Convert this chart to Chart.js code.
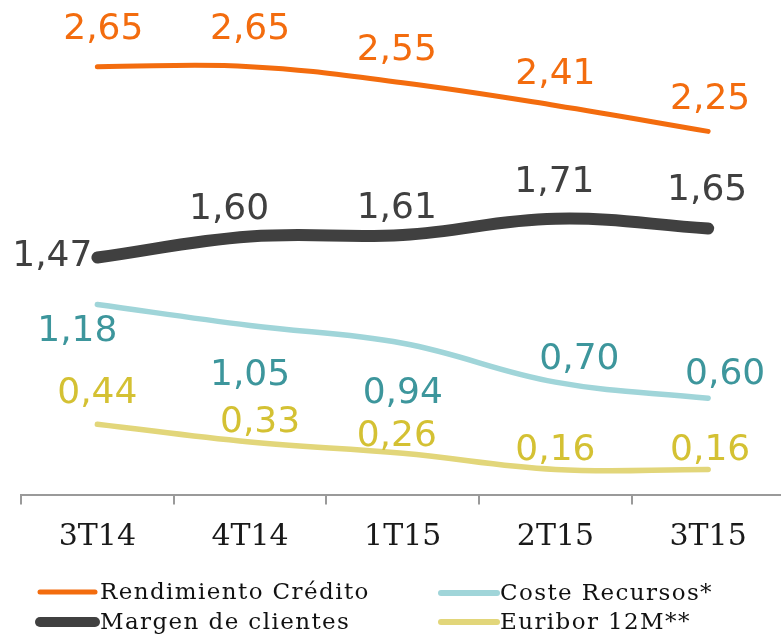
<!DOCTYPE html>
<html><head><meta charset="utf-8">
<script src="https://cdn.jsdelivr.net/npm/chart.js@4/dist/chart.umd.min.js"></script>
<style>html,body{margin:0;padding:0;overflow:hidden;background:#fff}#wrap{position:relative;width:786px;height:634px}</style>
</head><body><div id="wrap"><canvas id="c" width="786" height="634"></canvas></div>
<script>
const categories = ['3T14', '4T14', '1T15', '2T15', '3T15'];
const rendimientoCredito = [2.65, 2.65, 2.55, 2.41, 2.25];
const margenClientes = [1.47, 1.60, 1.61, 1.71, 1.65];
const costeRecursos = [1.18, 1.05, 0.94, 0.70, 0.60];
const euribor12M = [0.44, 0.33, 0.26, 0.16, 0.16];
const seriesNames = ['Rendimiento Crédito', 'Margen de clientes', 'Coste Recursos*', 'Euribor 12M**'];

const lineColors = ['#f36c0e', '#404040', '#a0d5d9', '#e2d67a'];
const labelColors = ['#f36c0e', '#404040', '#3d969c', '#d4c133'];
const lineWidths = [5, 12, 5.5, 5.5];
// label placement (layout only): offset of label centre from its point
const labelOffsets = [
  [[6,-39],[0,-39],[-6,-34],[0,-33],[2,-34]],
  [[-45,-3],[-21,-29],[-6,-28],[-1,-38],[-1,-40]],
  [[-20,25],[0,48],[0,48],[24,-24],[17,-26]],
  [[0,-33],[10,-21],[-6,-19],[0,-21],[2,-21]]
];
const legendSlots = [
  {x1:40, x2:95, y:592, tx:100},
  {x1:40, x2:95, y:622, tx:100},
  {x1:441, x2:497, y:593, tx:500},
  {x1:441, x2:497, y:622, tx:500}
];
const legendWidths = [5, 10, 6, 6];

const valueLabels = {
  id: 'valueLabels',
  afterDatasetsDraw(chart) {
    const ctx = chart.ctx;
    ctx.save();
    ctx.font = '36px "DejaVu Sans"';
    ctx.textAlign = 'center';
    ctx.textBaseline = 'middle';
    chart.data.datasets.forEach((ds, di) => {
      const meta = chart.getDatasetMeta(di);
      ctx.fillStyle = labelColors[di];
      meta.data.forEach((pt, i) => {
        const o = labelOffsets[di][i];
        ctx.fillText(ds.data[i].toFixed(2).replace('.', ','), pt.x + o[0], pt.y + o[1] + 2);
      });
    });
    ctx.restore();
  }
};
const legendPlugin = {
  id: 'customLegend',
  afterDraw(chart) {
    const ctx = chart.ctx;
    ctx.save();
    ctx.font = '23px "DejaVu Serif"';
    ctx.letterSpacing = '1.4px';
    ctx.textAlign = 'left';
    ctx.textBaseline = 'middle';
    seriesNames.forEach((name, i) => {
      const s = legendSlots[i];
      ctx.strokeStyle = lineColors[i];
      ctx.lineWidth = legendWidths[i];
      ctx.lineCap = 'round';
      ctx.beginPath();
      ctx.moveTo(s.x1, s.y);
      ctx.lineTo(s.x2, s.y);
      ctx.stroke();
      ctx.fillStyle = '#111';
      ctx.fillText(name, s.tx, s.y + 1);
    });
    ctx.restore();
  }
};

const series = [rendimientoCredito, margenClientes, costeRecursos, euribor12M];
new Chart(document.getElementById('c'), {
  type: 'line',
  data: {
    labels: categories,
    datasets: series.map((d, i) => ({
      label: seriesNames[i],
      data: d,
      borderColor: lineColors[i],
      backgroundColor: lineColors[i],
      borderWidth: lineWidths[i],
      borderCapStyle: 'round',
      borderJoinStyle: 'round',
      pointRadius: 0,
      tension: 0.4,
      fill: false
    }))
  },
  options: {
    responsive: false,
    animation: false,
    devicePixelRatio: 1,
    layout: { padding: { left: 21, right: 1.5, top: 10, bottom: 63.6 } },
    plugins: { legend: { display: false }, tooltip: { enabled: false } },
    scales: {
      x: {
        offset: true,
        grid: { offset: true, drawOnChartArea: false, drawTicks: true, tickLength: 9, color: '#9a9a9a', lineWidth: 2 },
        border: { display: true, color: '#9a9a9a', width: 2 },
        ticks: { font: { family: '"DejaVu Serif"', size: 30 }, color: '#1a1a1a', padding: 15 }
      },
      y: { display: false, min: 0, max: 3 }
    }
  },
  plugins: [valueLabels, legendPlugin]
});
</script></body></html>
